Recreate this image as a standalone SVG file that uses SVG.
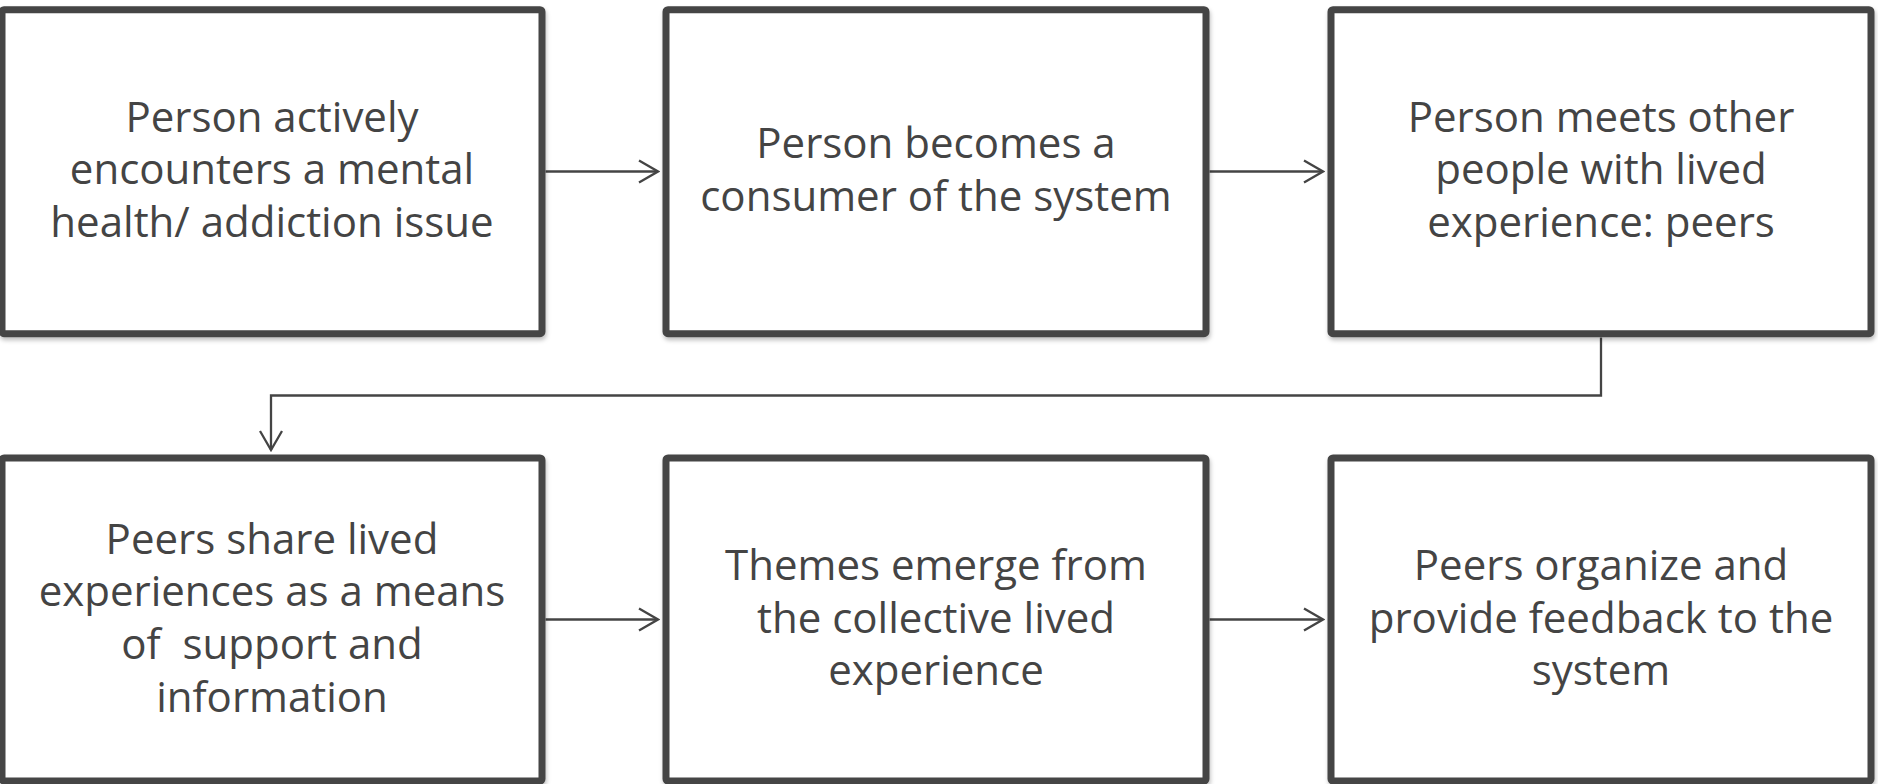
<svg xmlns="http://www.w3.org/2000/svg" width="1878" height="784" viewBox="0 0 1878 784">
  <style>
    .box { fill: #ffffff; stroke: #444444; stroke-width: 7; filter: url(#shadow); }
    .lbl { font-family: "Open Sans", "Liberation Sans", sans-serif; font-size: 42px; fill: #444444; text-anchor: middle; white-space: pre; }
    .link { fill: none; stroke: #444444; stroke-width: 2.3; marker-end: url(#arr); }
  </style>
  <defs>
    <filter id="shadow" x="-5%" y="-5%" width="110%" height="112%">
      <feDropShadow dx="1" dy="3" stdDeviation="2" flood-color="#000000" flood-opacity="0.25"/>
    </filter>
    <marker id="arr" markerUnits="userSpaceOnUse" viewBox="-22 -13 24 26" markerWidth="24" markerHeight="26" refX="0" refY="0" orient="auto">
      <path d="M-19,-11 L0,0 L-19,11" fill="none" stroke="#444444" stroke-width="2.3"/>
    </marker>
  </defs>
  <rect width="1878" height="784" fill="#ffffff"/>

  <!-- connectors -->
  <g id="connectors">
    <path class="link" d="M545.5,171.5 H658"/>
    <path class="link" d="M1209.5,171.5 H1323"/>
    <path class="link" d="M1601,337.5 V395.5 H271 V450"/>
    <path class="link" d="M545.5,619.5 H658"/>
    <path class="link" d="M1209.5,619.5 H1323"/>
  </g>

  <!-- top row -->
  <g id="node-encounter">
    <rect class="box" x="2" y="9.7" width="540" height="324" rx="2"/>
    <text class="lbl" x="272" y="131.7">Person actively</text>
    <text class="lbl" x="272" y="184.4">encounters a mental</text>
    <text class="lbl" x="272" y="237.1">health/ addiction issue</text>
  </g>
  <g id="node-consumer">
    <rect class="box" x="666" y="9.7" width="540" height="324" rx="2"/>
    <text class="lbl" x="936" y="158">Person becomes a</text>
    <text class="lbl" x="936" y="210.7">consumer of the system</text>
  </g>
  <g id="node-peers">
    <rect class="box" x="1331" y="9.7" width="540" height="324" rx="2"/>
    <text class="lbl" x="1601" y="131.7">Person meets other</text>
    <text class="lbl" x="1601" y="184.4">people with lived</text>
    <text class="lbl" x="1601" y="237.1">experience: peers</text>
  </g>

  <!-- bottom row -->
  <g id="node-share">
    <rect class="box" x="2" y="458" width="540" height="323" rx="2"/>
    <text class="lbl" x="272" y="553.5">Peers share lived</text>
    <text class="lbl" x="272" y="606.2">experiences as a means</text>
    <text class="lbl" x="272" y="658.9">of  support and</text>
    <text class="lbl" x="272" y="711.6">information</text>
  </g>
  <g id="node-themes">
    <rect class="box" x="666" y="458" width="540" height="323" rx="2"/>
    <text class="lbl" x="936" y="579.8">Themes emerge from</text>
    <text class="lbl" x="936" y="632.5">the collective lived</text>
    <text class="lbl" x="936" y="685.2">experience</text>
  </g>
  <g id="node-feedback">
    <rect class="box" x="1331" y="458" width="540" height="323" rx="2"/>
    <text class="lbl" x="1601" y="579.8">Peers organize and</text>
    <text class="lbl" x="1601" y="632.5">provide feedback to the</text>
    <text class="lbl" x="1601" y="685.2">system</text>
  </g>
</svg>
